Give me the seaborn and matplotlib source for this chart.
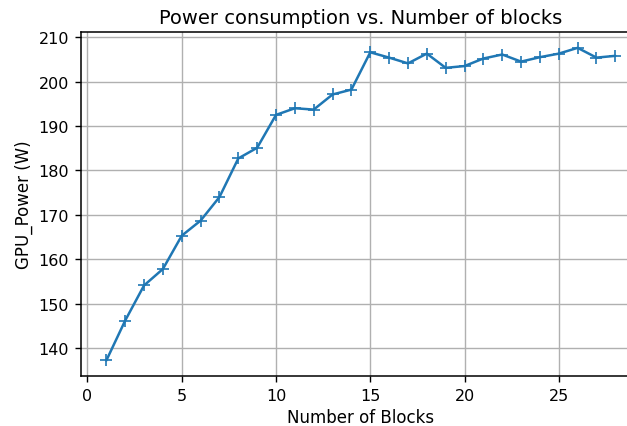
import matplotlib
matplotlib.use("Agg")
import matplotlib.pyplot as plt
import seaborn as sns
import pandas as pd

blocks = list(range(1, 29))
gpu_power = [137.2, 146.2, 154.1, 157.8, 165.3, 168.7, 174.0, 182.7, 185.1, 192.5,
             194.0, 193.7, 197.1, 198.2, 206.6, 205.4, 204.1, 206.3, 203.1, 203.5,
             205.2, 206.1, 204.5, 205.5, 206.3, 207.6, 205.4, 205.8]

sns.set_style("whitegrid", {"axes.edgecolor": "black", "grid.color": "#b0b0b0",
                            "xtick.bottom": True, "ytick.left": True,
                            "axes.spines.top": True, "axes.spines.right": True})
plt.rcParams['font.family'] = ['DejaVu Sans']
plt.rcParams['text.color'] = 'black'
plt.rcParams['axes.labelcolor'] = 'black'
plt.rcParams['xtick.color'] = 'black'
plt.rcParams['ytick.color'] = 'black'

df = pd.DataFrame({"Number of Blocks": blocks, "GPU_Power (W)": gpu_power})

fig = plt.figure(figsize=(6.27, 4.27), dpi=100)
ax = fig.add_axes([0.129, 0.117, 1.022 - 0.129, 0.922 - 0.117])
sns.lineplot(data=df, x="Number of Blocks", y="GPU_Power (W)", ax=ax,
             marker="+", markersize=8.5, markeredgewidth=1.2, color="#1f77b4",
             markeredgecolor="#1f77b4", linewidth=1.8)
ax.grid(True, color="#b0b0b0", linewidth=1.0)
ax.set_axisbelow(True)
for s in ax.spines.values():
    s.set_visible(True)
    s.set_color("black")
    s.set_linewidth(1.1)
    s.set_zorder(5)
ax.tick_params(colors="black", labelsize=11.5, length=4.2, width=1.0, pad=4.2)
ax.set_title("Power consumption vs. Number of blocks", fontsize=14, color="black", pad=7)
ax.set_xlabel("Number of Blocks", fontsize=12, labelpad=4)
ax.set_ylabel("GPU_Power (W)", fontsize=12, labelpad=4)
ax.set_xlim(-0.35, 29.35)
ax.set_ylim(133.7, 211.1)
ax.set_xticks([0, 5, 10, 15, 20, 25])
fig.savefig("out.png", dpi=100)
